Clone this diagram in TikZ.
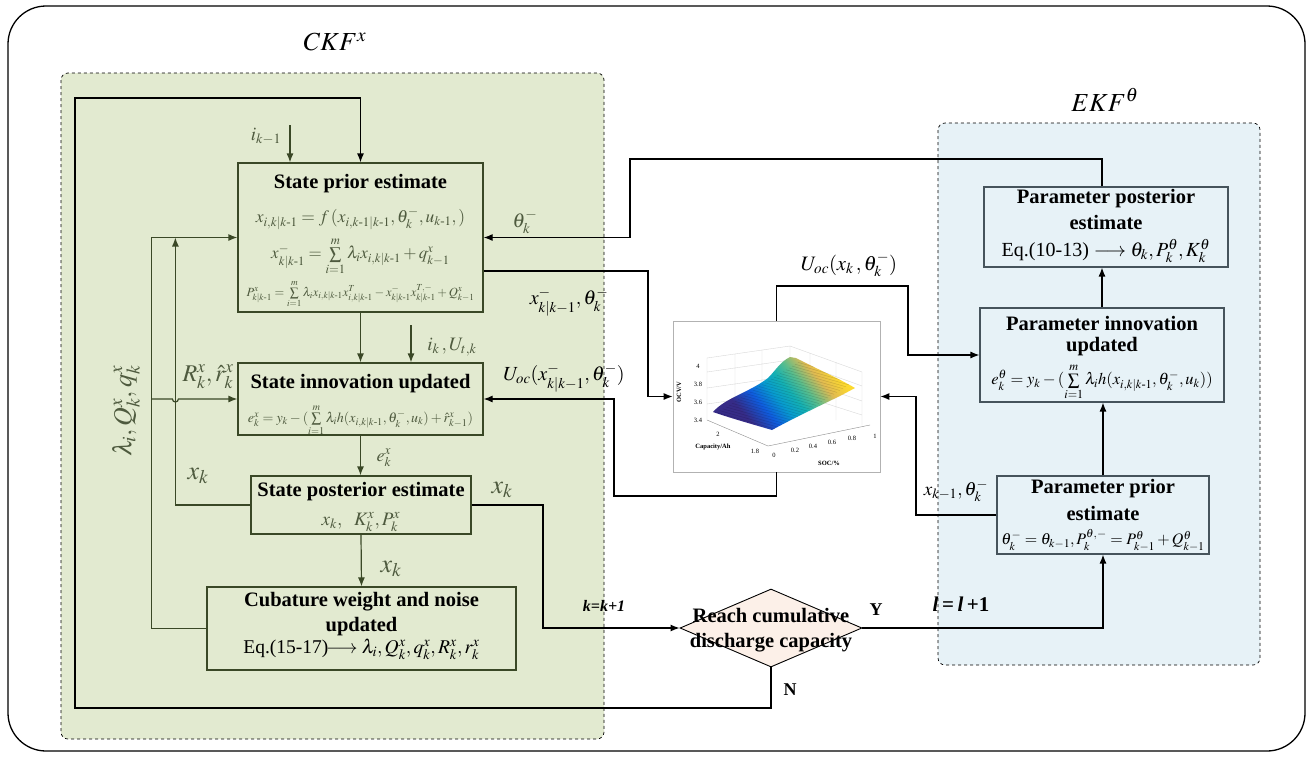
\documentclass[tikz,border=0pt]{standalone}
\usepackage{amsmath, amssymb}
\usepackage{mathptmx}
\usepackage{fontspec}
\setmainfont{Liberation Serif}
\usetikzlibrary{arrows.meta, shapes.geometric}

\definecolor{ckfgreen}{RGB}{226,234,208}
\definecolor{ekfblue}{RGB}{231,242,247}
\definecolor{olive}{RGB}{58,72,38}
\definecolor{olivetxt}{RGB}{78,90,62}
\definecolor{peach}{RGB}{252,240,232}
\definecolor{ekfline}{RGB}{70,84,92}

\pgfdeclarehorizontalshading{parula}{100bp}{rgb(0bp)=(0.21,0.17,0.53); rgb(33bp)=(0.21,0.17,0.53); rgb(40bp)=(0.06,0.36,0.87); rgb(46bp)=(0.03,0.61,0.81); rgb(51bp)=(0.08,0.69,0.70); rgb(56bp)=(0.35,0.74,0.55); rgb(62bp)=(0.88,0.73,0.32); rgb(68bp)=(0.99,0.85,0.18); rgb(100bp)=(0.99,0.85,0.18)}

\newcommand{\kmo}{k\text{-}1}

\tikzset{
    arr/.style={line width=1.2pt, -{Latex[length=9pt,width=7pt]}},
    gbox/.style={draw=olive, line width=1.2pt, inner sep=0pt},
    bbox/.style={draw=ekfline, fill=ekfblue, line width=1.1pt, inner sep=0pt},
    ttl/.style={inner sep=0pt, font=\fontsize{20.5}{24}\selectfont\bfseries},
    eqn/.style={inner sep=0pt, text=olivetxt},
    lbl/.style={inner sep=0pt, font=\fontsize{16}{18}\selectfont},
    tick/.style={inner sep=0pt, font=\fontsize{6.5}{7}\selectfont},
}

\begin{document}
\begin{tikzpicture}[x=1pt,y=1pt,yscale=-1,xscale=1]
    \useasboundingbox (0,0) rectangle (1312,756);

    %Shape: Rounded Rectangle (outer frame)
    \draw[line width=1.3pt, rounded corners=38pt] (8,6) rectangle (1305,751);
    %Shape: Rounded Rectangle (CKF panel)
    \draw[dashed, fill=ckfgreen, rounded corners=7pt, line width=0.7pt] (61,73) rectangle (604,739);
    %Shape: Rounded Rectangle (EKF panel)
    \draw[dashed, fill=ekfblue, rounded corners=7pt, line width=0.7pt] (938,123) rectangle (1260,665);

    % Text Node
    \node[inner sep=0pt] (ckf) at (335,42) {\fontsize{26}{28}\selectfont$CKF^{x}$};
    % Text Node
    \node[inner sep=0pt] (ekf) at (1105,100) {\fontsize{26}{28}\selectfont$EKF^{\theta}$};

    %Shape: Rectangle (CKF boxes)
    \node[gbox, minimum width=245pt, minimum height=149pt] (prior) at (360.5,237.5) {};
    \node[gbox, minimum width=245pt, minimum height=72pt] (innov) at (360.5,399) {};
    \node[gbox, minimum width=220pt, minimum height=58pt] (post) at (361,505) {};
    \node[gbox, minimum width=309pt, minimum height=83pt] (cub) at (361.5,628.5) {};

    %Shape: Rectangle (EKF boxes)
    \node[bbox, minimum width=244pt, minimum height=80pt] (ppost) at (1106,227) {};
    \node[bbox, minimum width=244pt, minimum height=94pt] (pinnov) at (1102,355) {};
    \node[bbox, minimum width=212pt, minimum height=78pt] (pprior) at (1103,515) {};

    %Shape: Diamond
    \node[diamond, draw, fill=peach, line width=0.9pt, inner sep=0pt, minimum width=182pt, minimum height=78pt] (dec) at (771,628) {};

    %Shape: Rectangle (OCV surface plot)
    \node[draw=black!30, fill=white, line width=0.6pt, inner sep=0pt, minimum width=207pt, minimum height=151pt] (plot) at (776.5,396.5) {};

    % surface plot: grid, surface, ticks
    \draw[black!15, line width=0.4pt] (707,358) -- (707,420) (707,358) -- (790,346) -- (790,405) (790,346) -- (862,372) -- (862,425)
        (707,372) -- (790,360) -- (862,386) (707,388) -- (790,376) -- (862,401) (707,404) -- (790,392) -- (862,415)
        (735,354) -- (735,413) (762,350) -- (762,409) (810,353) -- (810,412) (836,362) -- (836,420);
    \draw[black!45, line width=0.4pt] (707,420) -- (768,446) -- (870,425);
    \begin{scope}
        \clip (713,412) .. controls (725,398) and (750,392) .. (768,378) .. controls (776,370) and (780,362) .. (790,357)
            -- (796,358) .. controls (815,368) and (838,378) .. (855,388)
            -- (840,396) .. controls (815,408) and (790,420) .. (772,430)
            .. controls (755,425) and (730,418) .. (713,412) -- cycle;
        \shade[shading=parula, shading angle=40] (700,340) rectangle (870,440);
        \foreach \ss in {0,3,...,150}{
            \draw[black, opacity=0.18, line width=0.35pt] (705+\ss,420-0.62*\ss) -- ++(60,17);
        }
    \end{scope}
    \foreach \yy/\tk in {366/4, 384/3.8, 402/3.6, 420/3.4}{
        \node[tick] (tk\yy) at (698,\yy) {\tk};
    }
    \node[tick] (tkc2) at (718,434) {2};
    \node[tick] (tkc18) at (755,451) {1.8};
    \foreach \xx/\yy/\tk in {774/455/0, 795/450/0.2, 813/446/0.4, 832/442/0.6, 852/438/0.8, 875/436/1}{
        \node[tick] (ts\xx) at (\xx,\yy) {\tk};
    }
    \node[tick, font=\fontsize{6.5}{7}\selectfont\bfseries, rotate=90] (ocvl) at (679,392) {OCV/V};
    \node[tick, font=\fontsize{6.5}{7}\selectfont\bfseries] (capl) at (713,447) {Capacity/Ah};
    \node[tick, font=\fontsize{6.5}{7}\selectfont\bfseries] (socl) at (829,463) {SOC/\%};

    % Text Node (state prior estimate)
    \node[ttl] (priort) at (360.5,184) {State prior estimate};
    \node[eqn, font=\fontsize{17.5}{19}\selectfont] (prior1) at (360.5,219) {$x_{i,k|\kmo} = f\,(x_{i,\kmo|\kmo},\theta^{-}_{k},u_{\kmo},)$};
    \node[eqn, font=\fontsize{17}{19}\selectfont] (prior2) at (360.5,256) {$x^{-}_{k|\kmo} = \sum\limits_{i=1}^{m}\lambda_i x_{i,k|\kmo} + q^{x}_{k-1}$};
    \node[eqn, font=\fontsize{12.5}{14}\selectfont] (prior3) at (360.5,294) {$P^{x}_{k|\kmo} = \sum\limits_{i=1}^{m}\lambda_i x_{i,k|\kmo}x^{T}_{i,k|\kmo} - x^{-}_{k|\kmo}x^{T,-}_{k|\kmo} + Q^{x}_{k-1}$};

    % Text Node (state innovation updated)
    \node[ttl] (innovt) at (360.5,384) {State innovation updated};
    \node[eqn, font=\fontsize{14}{16}\selectfont] (innov1) at (360.5,420) {$e^{x}_{k} = y_k - (\sum\limits_{i=1}^{m}\lambda_i h(x_{i,k|\kmo},\theta^{-}_{k},u_k) + \hat{r}^{x}_{k-1})$};

    % Text Node (state posterior estimate)
    \node[ttl] (postt) at (361,492) {State posterior estimate};
    \node[eqn, font=\fontsize{19}{21}\selectfont] (post1) at (361,522) {$x_k,\ \ K^{x}_{k},P^{x}_{k}$};

    % Text Node (cubature weight)
    \node[ttl] (cubt) at (361.5,602) {Cubature weight and noise};
    \node[ttl] (cubt2) at (361.5,627) {updated};
    \node[inner sep=0pt, font=\fontsize{19.5}{21}\selectfont] (cub1) at (361.5,649) {Eq.(15-17)$\!\longrightarrow\lambda_i,Q^{x}_{k},q^{x}_{k},R^{x}_{k},r^{x}_{k}$};

    % Text Node (parameter posterior estimate)
    \node[ttl] (ppostt) at (1106,199) {Parameter posterior};
    \node[ttl] (ppostt2) at (1106,222) {estimate};
    \node[inner sep=0pt, font=\fontsize{20}{22}\selectfont] (ppost1) at (1106,251) {Eq.(10-13) $\longrightarrow\theta_k,P^{\theta}_{k},K^{\theta}_{k}$};

    % Text Node (parameter innovation updated)
    \node[ttl] (pinnovt) at (1102,323) {Parameter innovation};
    \node[ttl] (pinnovt2) at (1102,347) {updated};
    \node[inner sep=0pt, font=\fontsize{16.5}{18}\selectfont] (pinnov1) at (1102,382) {$e^{\theta}_{k} = y_k - (\sum\limits_{i=1}^{m}\lambda_i h(x_{i,k|\kmo},\theta^{-}_{k},u_k))$};

    % Text Node (parameter prior estimate)
    \node[ttl] (ppriort) at (1103,489) {Parameter prior};
    \node[ttl] (ppriort2) at (1103,513) {estimate};
    \node[inner sep=0pt, font=\fontsize{16}{18}\selectfont] (pprior1) at (1103,540) {$\theta^{-}_{k} = \theta_{k-1}, P^{\theta,-}_{k} = P^{\theta}_{k-1} + Q^{\theta}_{k-1}$};

    % Text Node (decision)
    \node[inner sep=0pt, align=center, font=\fontsize{20.5}{25}\selectfont\bfseries] (dect) at (771,630) {Reach cumulative\\discharge capacity};

    %Straight Lines (CKF chain)
    \coordinate (ikin) at (290,125);
    \draw[arr, draw=olive] (ikin) -- (ikin |- prior.north);
    \coordinate (ukin) at (411,325);
    \draw[arr, draw=olive] (ukin) -- (ukin |- innov.north);
    \draw[arr, draw=olive] (prior.south) -- (innov.north);
    \draw[arr, draw=olive] (innov.south) -- (innov.south |- post.north);
    \draw[arr, draw=olive] (post.south) -- (cub.north);

    %Straight Lines (left feedback)
    \coordinate (lq) at ([xshift=-86pt]prior.west);
    \coordinate (lx) at ([xshift=-62pt]prior.west);
    \draw[arr, draw=olive] (cub.west) -| (lq) -- (prior.west);
    \draw[arr, draw=olive] (lq |- innov.west) -- ([xshift=-3pt]lx |- innov.west) arc[start angle=180, end angle=0, radius=3pt] -- (innov.west);
    \draw[arr, draw=olive] (post.west) -| (lx);

    %Straight Lines (main loop N)
    \coordinate (lb) at (75,708);
    \coordinate (lt) at (75,98);
    \draw[arr] (dec.south) |- (lb) -- (lt) -| (prior.north);

    %Straight Lines (posterior to decision)
    \coordinate (kk) at (543,505);
    \draw[arr] (post.east) -- (kk) |- (dec.west);
    %Straight Lines (decision Y to EKF)
    \draw[arr] (dec.east) -| (pprior.south);

    %Straight Lines (EKF chain)
    \draw[arr] (pprior.north) -- (pprior.north |- pinnov.south);
    \draw[arr] (pinnov.north) -- (pinnov.north |- ppost.south);

    %Straight Lines (theta feedback)
    \coordinate (thb) at (630,159);
    \draw[arr] (pinnov.north |- ppost.north) |- (thb) |- (prior.east);

    %Straight Lines (prior to OCV plot)
    \coordinate (po) at (648,271);
    \draw[arr] (prior.east |- po) -- (po) |- (plot.west);
    %Straight Lines (OCV plot to innovation)
    \coordinate (ub) at (614,496);
    \draw[arr] (plot.south) |- (ub) |- (innov.east);
    %Straight Lines (OCV plot to parameter innovation)
    \coordinate (ut) at (908,286);
    \draw[arr] (plot.north) |- (ut) |- (pinnov.west);
    %Straight Lines (parameter prior to OCV plot)
    \coordinate (xk1) at (916,515);
    \draw[arr] (pprior.west) -- (xk1) |- (plot.east);

    % Text Node (labels)
    \node[lbl, text=olivetxt, font=\fontsize{19}{21}\selectfont] (likm) at (266,136) {$i_{k-1}$};
    \node[lbl, text=olivetxt, font=\fontsize{19}{21}\selectfont] (lik) at (452,347) {$i_k\,,U_{t,k}$};
    \node[lbl, text=olivetxt, font=\fontsize{18}{20}\selectfont] (lek) at (384,458) {$e^{x}_{k}$};
    \node[lbl, text=olivetxt, font=\fontsize{26}{28}\selectfont] (lxk1) at (391,569) {$x_k$};
    \node[lbl, text=olivetxt, font=\fontsize{26}{28}\selectfont] (lxk2) at (502,490) {$x_k$};
    \node[lbl, text=olivetxt, font=\fontsize{26}{28}\selectfont] (lxk3) at (198,476) {$x_k$};
    \node[lbl, text=olivetxt, font=\fontsize{24}{26}\selectfont] (lrk) at (208,377) {$R^{x}_{k},\hat{r}^{x}_{k}$};
    \node[lbl, text=olivetxt, font=\fontsize{26}{28}\selectfont, rotate=90] (llam) at (126,411) {$\lambda_i,Q^{x}_{k},q^{x}_{k}$};
    \node[lbl, text=olivetxt, font=\fontsize{20}{22}\selectfont] (lth) at (525,222) {$\theta^{-}_{k}$};
    \node[lbl, font=\fontsize{20}{22}\selectfont] (lxth) at (569,302) {$x^{-}_{k|k-1},\theta^{-}_{k}$};
    \node[lbl, font=\fontsize{20}{22}\selectfont] (luoc) at (564,378) {$U_{oc}(x^{-}_{k|k-1},\theta^{-}_{k})$};
    \node[lbl, font=\fontsize{20.5}{22}\selectfont] (luoc2) at (849,265) {$U_{oc}(x_k\,,\theta^{-}_{k})$};
    \node[lbl, font=\fontsize{19}{21}\selectfont] (lxkm) at (956,491) {$x_{k-1},\theta^{-}_{k}$};
    \node[lbl, font=\fontsize{21}{23}\selectfont\bfseries\itshape] (lll) at (961,604) {l\,{\upshape=}\,l\,{\upshape+1}};
    \node[lbl, font=\fontsize{16}{18}\selectfont\bfseries\itshape] (lkk) at (604,606) {k=k+1};
    \node[lbl, font=\fontsize{18}{20}\selectfont\bfseries] (ly) at (876,610) {Y};
    \node[lbl, font=\fontsize{18}{20}\selectfont\bfseries] (ln) at (790,690) {N};

\end{tikzpicture}
\end{document}
